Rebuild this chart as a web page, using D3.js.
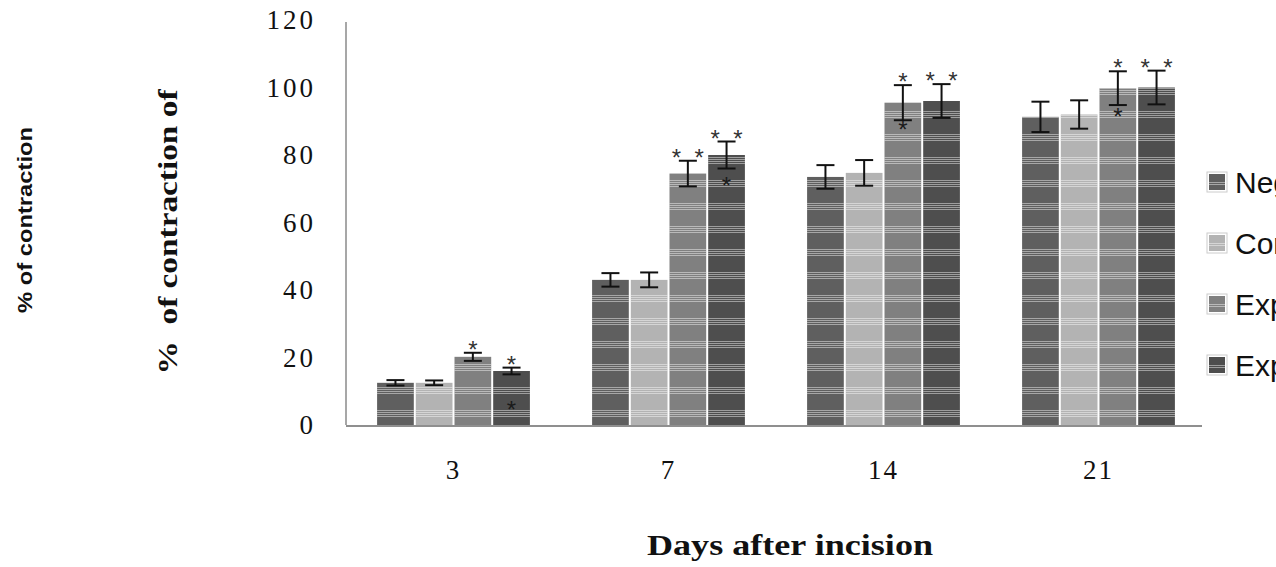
<!DOCTYPE html>
<html>
<head>
<meta charset="utf-8">
<script src="https://cdnjs.cloudflare.com/ajax/libs/d3/7.8.5/d3.min.js"></script>
<style>
  body { margin: 0; background: #fff; }
  svg { display: block; }
</style>
</head>
<body>
<svg id="chart"></svg>
<script>
var days = ["3", "7", "14", "21"];
var seriesNames = ["Negative control", "Control", "Experimental 1", "Experimental 2"];
var seriesColors = ["#5f5f5f", "#b3b3b3", "#808080", "#4e4e4e"];

var negValues = [12.5, 43, 73.5, 91.3];
var ctrlValues = [12.5, 43, 74.7, 92];
var exp1Values = [20.2, 74.5, 95.5, 99.8];
var exp2Values = [16, 80, 96, 100];

var negErr = [0.8, 2, 3.5, 4.5];
var ctrlErr = [0.7, 2.2, 3.8, 4.2];
var exp1Err = [1.2, 3.8, 5.2, 5];
var exp2Err = [1, 4, 5, 5];

// significance marks above the error bars, and the extra ones lower down
var exp1Stars = ["*", "*  *", "*", "*"];
var exp2Stars = ["*", "*  *", "*  *", "*  *"];
var exp1InnerStar = [null, null, 88.5, 92.5];
var exp2InnerStar = [5.5, 72, null, null];

var yTicks = [0, 20, 40, 60, 80, 100, 120];

var width = 1276, height = 567;
var svg = d3.select("#chart").attr("width", width).attr("height", height);

var x0 = d3.scaleBand().domain(days).range([346, 1206]).paddingInner(0.28).paddingOuter(0.14);
var x1 = d3.scaleBand().domain(d3.range(4)).range([0, x0.bandwidth()]);
var y = d3.scaleLinear().domain([0, 120]).range([425, 20]);

var values = [negValues, ctrlValues, exp1Values, exp2Values];
var errs = [negErr, ctrlErr, exp1Err, exp2Err];

var rows = [];
days.forEach((d, i) => {
  values.forEach((s, k) => {
    rows.push({ day: d, k: k, v: s[i], e: errs[k][i],
      star: k === 2 ? exp1Stars[i] : k === 3 ? exp2Stars[i] : null,
      inner: k === 2 ? exp1InnerStar[i] : k === 3 ? exp2InnerStar[i] : null });
  });
});

// scan-like horizontal stripe bands
var defs = svg.append("defs");
var pat = defs.append("pattern")
    .attr("id", "stripes")
    .attr("patternUnits", "userSpaceOnUse")
    .attr("width", 8)
    .attr("height", 23)
    .attr("patternTransform", "translate(0,19)");
[0, 2, 4, 6].forEach(o => {
  pat.append("rect")
      .attr("x", 0).attr("y", o)
      .attr("width", 8).attr("height", 1)
      .attr("fill", "#fff")
      .attr("fill-opacity", 0.45);
});

// axes
svg.append("line")
    .attr("x1", 346).attr("x2", 346)
    .attr("y1", 22).attr("y2", y(0))
    .attr("stroke", "#8a8a8a").attr("stroke-width", 1.5);

var yAxis = svg.append("g").attr("class", "y-ticks");
yAxis.selectAll("text")
  .data(yTicks)
  .enter()
  .append("text")
    .attr("x", 316)
    .attr("y", d => y(d) + 9)
    .attr("text-anchor", "end")
    .attr("font-family", "Liberation Serif")
    .attr("font-size", 27)
    .attr("letter-spacing", 3)
    .attr("fill", "#111")
    .text(d => d);

// bars
var groups = svg.selectAll(".day")
  .data(days)
  .enter()
  .append("g")
    .classed("day", true)
    .attr("transform", d => "translate(" + x0(d) + ",0)");

var barRows = d => rows.filter(r => r.day === d);

groups.selectAll(".bar")
  .data(barRows)
  .enter()
  .append("rect")
    .classed("bar", true)
    .attr("x", d => x1(d.k) + 1)
    .attr("width", x1.bandwidth() - 2)
    .attr("y", d => y(d.v))
    .attr("height", d => y(0) - y(d.v))
    .attr("fill", d => seriesColors[d.k]);

groups.selectAll(".stripe")
  .data(barRows)
  .enter()
  .append("rect")
    .classed("stripe", true)
    .attr("x", d => x1(d.k) + 1)
    .attr("width", x1.bandwidth() - 2)
    .attr("y", d => y(d.v))
    .attr("height", d => y(0) - y(d.v))
    .attr("fill", "url(#stripes)");

svg.append("line")
    .attr("x1", 346).attr("x2", 1202)
    .attr("y1", y(0) + 1).attr("y2", y(0) + 1)
    .attr("stroke", "#8f8f8f").attr("stroke-width", 2);

// error bars
var eb = groups.selectAll(".err")
  .data(barRows)
  .enter()
  .append("g")
    .classed("err", true)
    .attr("transform", d => "translate(" + (x1(d.k) + x1.bandwidth() / 2) + ",0)")
    .attr("stroke", "#111")
    .attr("stroke-width", 2);

eb.append("line")
    .attr("y1", d => y(d.v + d.e))
    .attr("y2", d => y(d.v - d.e));
eb.append("line")
    .attr("x1", -9).attr("x2", 9)
    .attr("y1", d => y(d.v + d.e))
    .attr("y2", d => y(d.v + d.e));
eb.append("line")
    .attr("x1", -9).attr("x2", 9)
    .attr("y1", d => y(d.v - d.e))
    .attr("y2", d => y(d.v - d.e));

// stars
groups.selectAll(".star")
  .data(d => barRows(d).filter(r => r.star))
  .enter()
  .append("text")
    .classed("star", true)
    .attr("x", d => x1(d.k) + x1.bandwidth() / 2)
    .attr("y", d => y(d.v + d.e) + 5)
    .attr("text-anchor", "middle")
    .attr("font-family", "Liberation Sans")
    .attr("font-size", 24)
    .attr("fill", "#333")
    .style("white-space", "pre")
    .text(d => d.star);

groups.selectAll(".inner-star")
  .data(d => barRows(d).filter(r => r.inner != null))
  .enter()
  .append("text")
    .classed("inner-star", true)
    .attr("x", d => x1(d.k) + x1.bandwidth() / 2)
    .attr("y", d => y(d.inner) + 12)
    .attr("text-anchor", "middle")
    .attr("font-family", "Liberation Sans")
    .attr("font-size", 24)
    .attr("fill", "#1a1a1a")
    .text("*");

// x tick labels
svg.selectAll(".x-tick")
  .data(days)
  .enter()
  .append("text")
    .classed("x-tick", true)
    .attr("x", d => x0(d) + x0.bandwidth() / 2)
    .attr("y", 479)
    .attr("text-anchor", "middle")
    .attr("font-family", "Liberation Serif")
    .attr("font-size", 27)
    .attr("letter-spacing", 2)
    .attr("fill", "#111")
    .text(d => d);

// legend
var legend = svg.selectAll(".legend")
  .data(seriesNames)
  .enter()
  .append("g")
    .classed("legend", true)
    .attr("transform", (d, i) => "translate(1207," + (182 + i * 61) + ")");

legend.append("rect")
    .attr("x", 0).attr("y", -10)
    .attr("width", 20).attr("height", 20)
    .attr("fill", "#fff")
    .attr("stroke", "#ccc");
legend.append("rect")
    .attr("x", 2).attr("y", -8)
    .attr("width", 16).attr("height", 16)
    .attr("fill", (d, i) => seriesColors[i]);
legend.append("rect")
    .attr("x", 2).attr("y", 0)
    .attr("width", 16).attr("height", 8)
    .attr("fill", "url(#stripes)");
legend.append("text")
    .attr("x", 28)
    .attr("y", 11)
    .attr("font-family", "Liberation Sans")
    .attr("font-size", 30)
    .attr("fill", "#111")
    .text(d => d);

// axis titles
svg.append("text")
    .attr("transform", "translate(32,220) rotate(-90)")
    .attr("text-anchor", "middle")
    .attr("font-family", "Liberation Sans")
    .attr("font-weight", "bold")
    .attr("font-size", 21)
    .attr("textLength", 186)
    .attr("lengthAdjust", "spacingAndGlyphs")
    .attr("fill", "#111")
    .text("% of contraction");

svg.append("text")
    .attr("transform", "translate(177,232) rotate(-90)")
    .attr("text-anchor", "middle")
    .attr("font-family", "Liberation Serif")
    .attr("font-weight", "bold")
    .attr("font-size", 28)
    .attr("textLength", 285)
    .attr("lengthAdjust", "spacingAndGlyphs")
    .attr("fill", "#111")
    .style("white-space", "pre")
    .text("%  of contraction of");

svg.append("text")
    .attr("x", 790)
    .attr("y", 555)
    .attr("text-anchor", "middle")
    .attr("font-family", "Liberation Serif")
    .attr("font-weight", "bold")
    .attr("font-size", 29)
    .attr("textLength", 286)
    .attr("lengthAdjust", "spacingAndGlyphs")
    .attr("fill", "#111")
    .text("Days after incision");
</script>
</body>
</html>
